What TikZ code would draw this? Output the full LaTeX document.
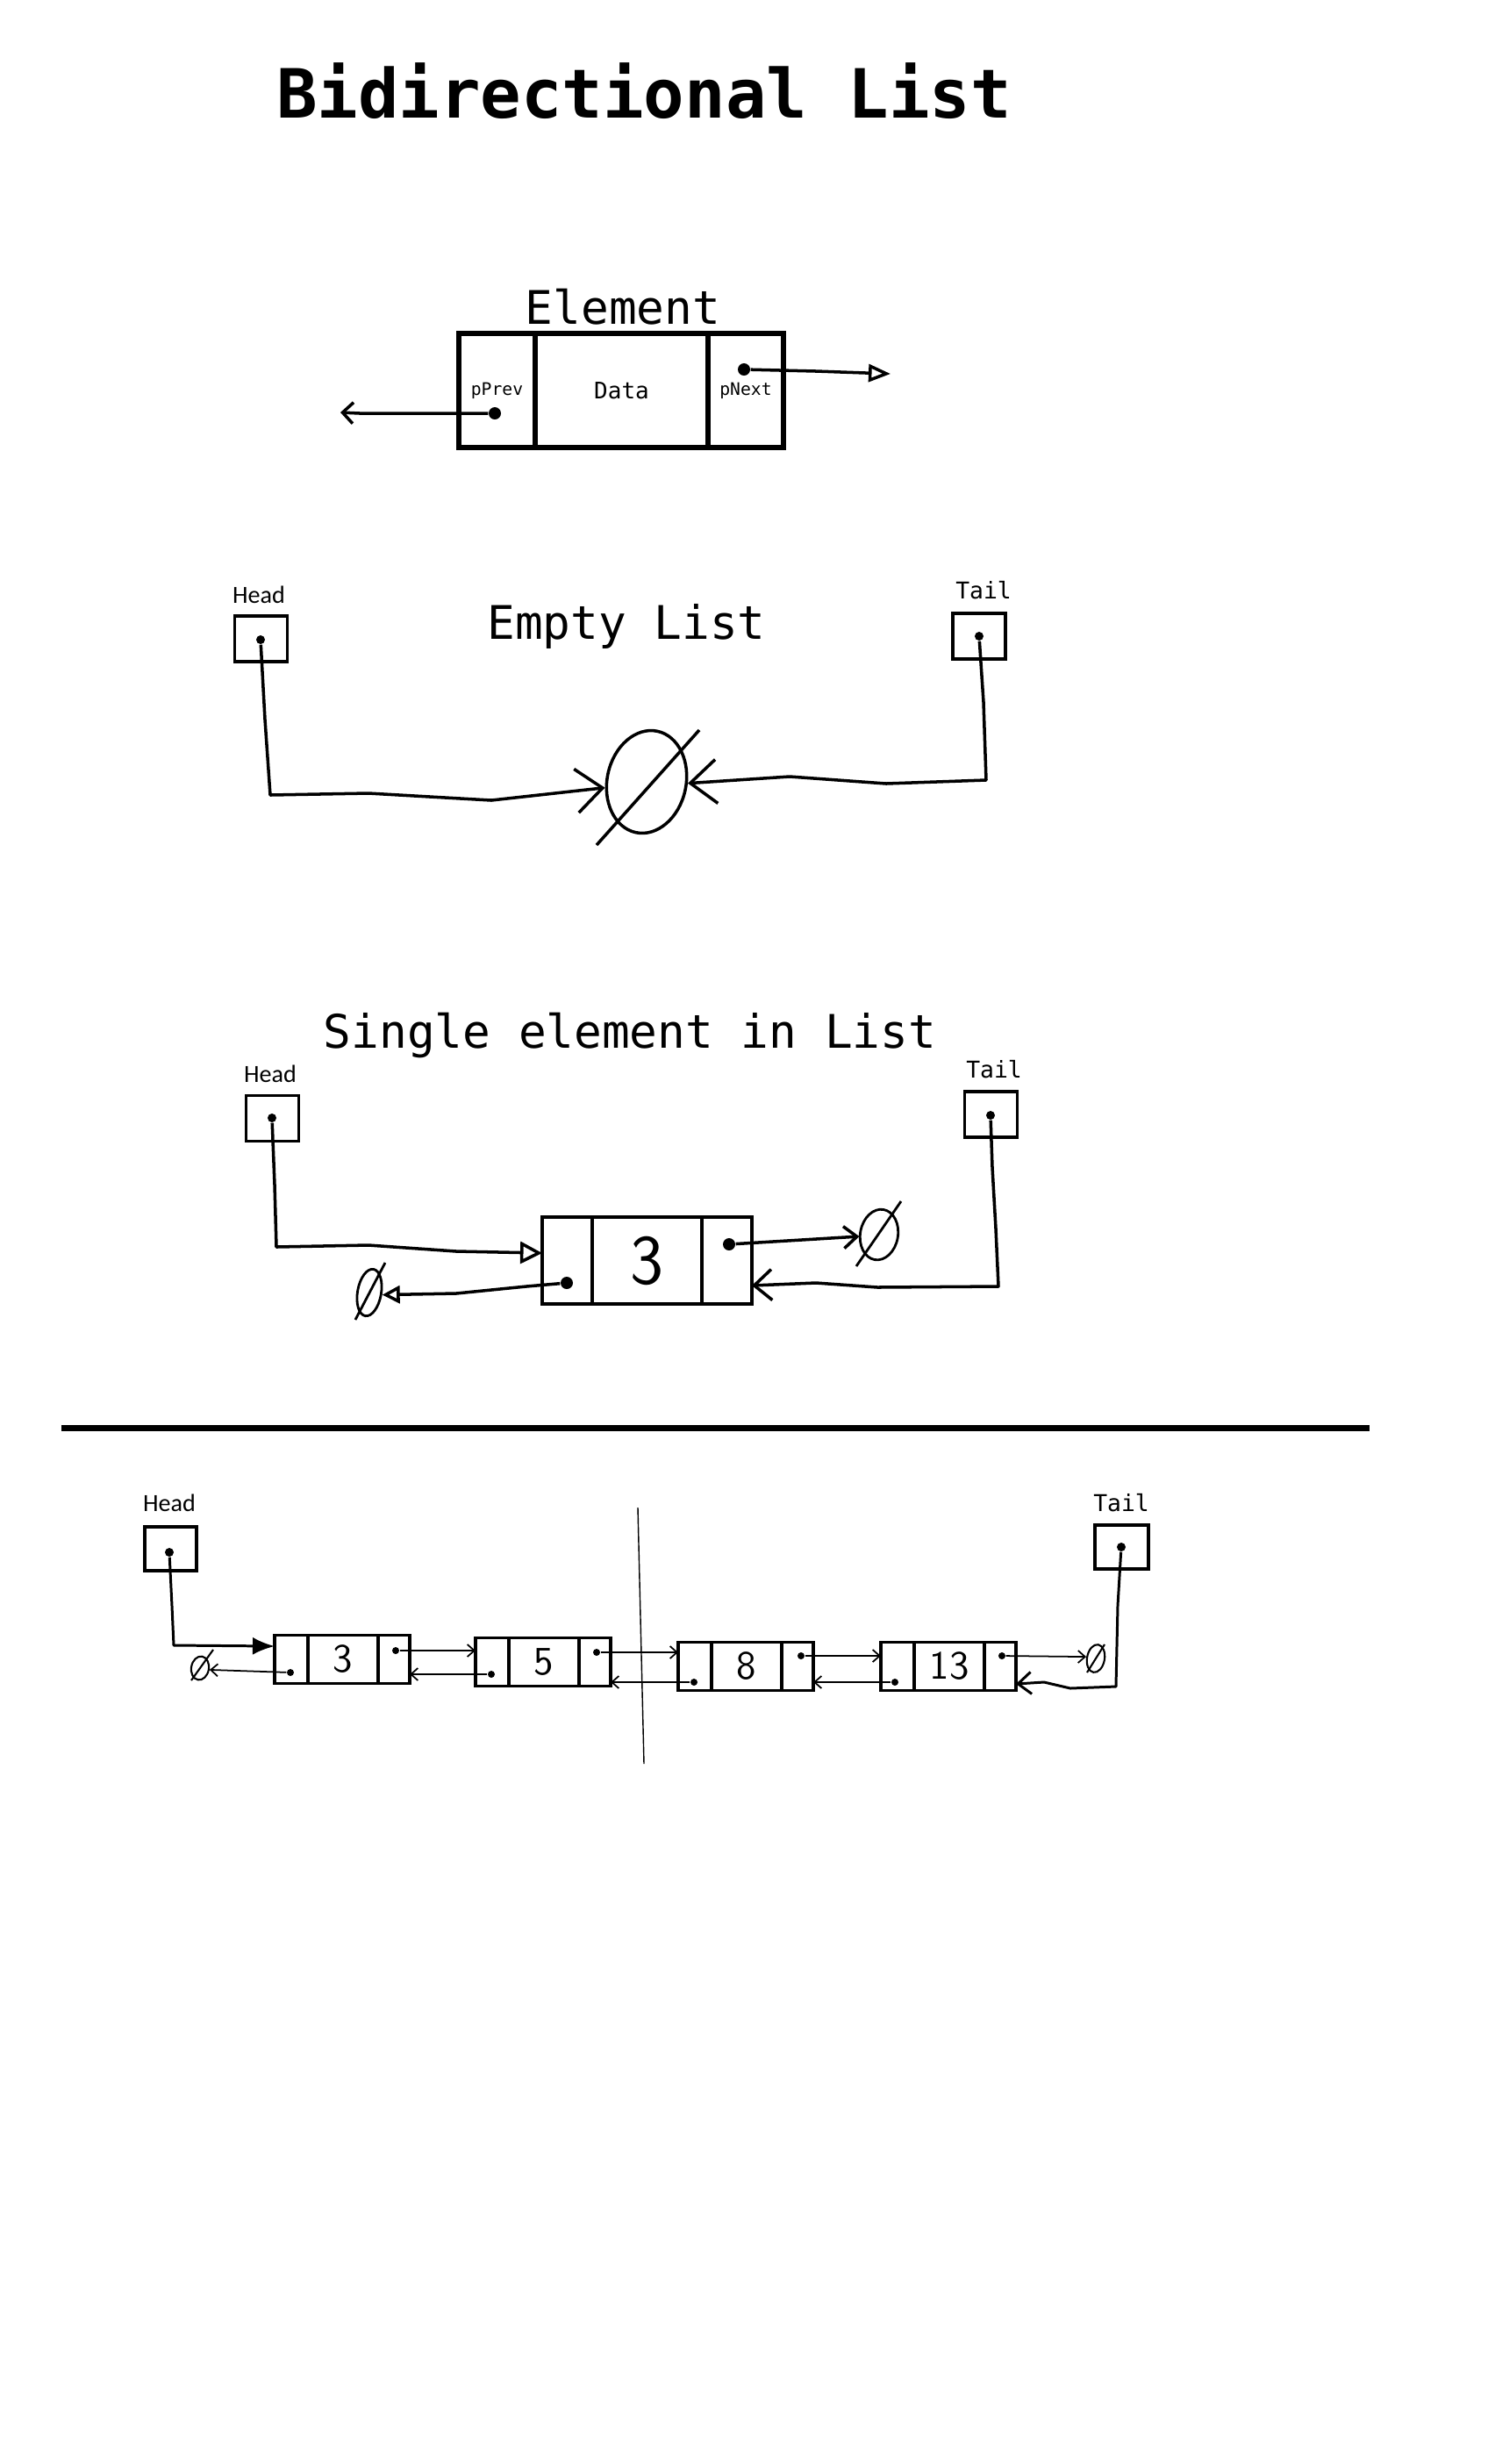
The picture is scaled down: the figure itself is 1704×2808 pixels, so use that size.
\documentclass[tikz,border=0pt]{standalone}
\usepackage{fontspec}
\setmonofont{DejaVu Sans Mono}
\newfontfamily\headfont{Carlito}
\usetikzlibrary{arrows.meta,shapes.geometric}

\tikzset{
    cell/.style={draw, rectangle, inner sep=0pt, outer sep=0pt, anchor=west},
    dot/.style={circle, fill, inner sep=0pt, minimum size=1.4mm},
    smalldot/.style={circle, fill, inner sep=0pt, minimum size=0.8mm},
    nullset/.style={ellipse, draw, inner sep=0pt, line width=0.8pt},
    ptrbox/.style={draw, rectangle, inner sep=0pt, line width=0.9pt, minimum width=6mm, minimum height=5.2mm},
    link/.style={line width=1pt, line join=round},
    thinlink/.style={line width=0.5pt},
    caption/.style={font=\ttfamily\fontsize{15}{18}\selectfont, anchor=base},
    headlbl/.style={font=\headfont\fontsize{8}{10}\selectfont, anchor=base},
    taillbl/.style={font=\ttfamily\fontsize{7.5}{9}\selectfont, anchor=base},
}

\begin{document}
\begin{tikzpicture}[x=0.1mm, y=-0.1mm]
    \useasboundingbox (0,0) rectangle (1704,2808);

    % Title
    \node[font=\ttfamily\bfseries\fontsize{22}{26}\selectfont, anchor=base] (title) at (734,134) {Bidirectional List};

    % Element
    \node[caption] (elcap) at (710,369) {Element};
    \node[cell, line width=1.5pt, minimum width=8.7mm, minimum height=13mm, font=\ttfamily\fontsize{5.6}{7}\selectfont] (elprev) at (523,445) {pPrev};
    \node[cell, line width=1.5pt, minimum width=19.7mm, minimum height=13mm, font=\ttfamily\fontsize{7.4}{9}\selectfont] (eldata) at (elprev.east) {Data};
    \node[cell, line width=1.5pt, minimum width=8.6mm, minimum height=13mm, font=\ttfamily\fontsize{5.6}{7}\selectfont] (elnext) at (eldata.east) {\raisebox{-0.6mm}{pNext}};
    \node[dot] (elpd) at (564,471) {};
    \node[dot] (elnd) at (848,421) {};
    \coordinate (elpend) at (388,470);
    \coordinate (elnend) at (1015,426);
    \draw[link, -{Straight Barb[length=1.2mm,width=2.4mm]}] (elpd) -- (410,471) -- (elpend);
    \draw[link, -{Triangle[open,length=2.5mm,width=2mm]}] (elnd) -- (930,423) -- (elnend);

    % Empty list
    \node[headlbl] (ehlbl) at (295,687) {Head};
    \node[ptrbox] (ehead) at (297.5,728) {};
    \node[dot, minimum size=1mm] (ehd) at (297,729) {};
    \node[taillbl] (etlbl) at (1121,682) {Tail};
    \node[ptrbox] (etail) at (1116,725) {};
    \node[dot, minimum size=1mm] (etd) at (1116,725) {};
    \node[caption] (ecap) at (714,728) {Empty List};
    \node[nullset, line width=1pt, minimum width=9mm, minimum height=11.8mm, rotate=-12] (enull) at (737,891) {};
    \draw[link] ([shift={(-57,72)}]enull.center) -- ([shift={(60,-59)}]enull.center);
    \draw[link, -{Straight Barb[length=3mm,width=5mm]}] (ehd) -- (302,820) -- (308,906) -- (420,904) -- (560,912) -- (enull.200);
    \draw[link, -{Straight Barb[length=3mm,width=5mm]}] (etd) -- (1121,800) -- (1124,889) -- (1010,893) -- (900,885) -- (enull.10);

    % Single element in list
    \node[caption] (scap) at (718,1194) {Single element in List};
    \node[headlbl] (shlbl) at (308,1233) {Head};
    \node[ptrbox] (shead) at (310.5,1274.5) {};
    \node[dot, minimum size=1mm] (shd) at (310,1274) {};
    \node[taillbl] (stlbl) at (1133,1228) {Tail};
    \node[ptrbox] (stail) at (1129.5,1270) {};
    \node[dot, minimum size=1mm] (std) at (1129,1271) {};
    \node[cell, line width=1pt, minimum width=5.7mm, minimum height=9.9mm] (sprev) at (618,1436.5) {};
    \node[cell, line width=1pt, minimum width=12.5mm, minimum height=9.9mm, font=\sffamily\fontsize{23}{26}\selectfont] (sdata) at (sprev.east) {3};
    \node[cell, line width=1pt, minimum width=5.7mm, minimum height=9.9mm] (snext) at (sdata.east) {};
    \node[dot] (spd) at (646,1462) {};
    \node[dot] (snd) at (831,1418) {};
    \node[nullset, minimum width=4.3mm, minimum height=5.8mm, rotate=-10] (snulln) at (1002,1407) {};
    \draw[link, line width=0.8pt] ([shift={(-26,36)}]snulln.center) -- ([shift={(25,-38)}]snulln.center);
    \node[nullset, minimum width=2.7mm, minimum height=5.4mm, rotate=-10] (snullp) at (421,1473) {};
    \draw[link, line width=0.8pt] ([shift={(-16,31)}]snullp.center) -- ([shift={(18,-34)}]snullp.center);
    \draw[link, -{Triangle[open,length=2.5mm,width=2.5mm]}] (shd) -- (313,1350) -- (315,1421) -- (420,1419) -- (520,1426) -- ([yshift=0.85mm]sprev.west);
    \draw[link, -{Straight Barb[length=1.5mm,width=2.5mm]}] (snd) -- ([yshift=-0.6mm]snulln.west);
    \draw[link, -{Straight Barb[length=2mm,width=3.5mm]}] (std) -- (1131,1330) -- (1135,1400) -- (1138,1466) -- (1000,1467) -- (930,1462) -- ([yshift=-2.85mm]snext.east);
    \draw[link, -{Triangle[open,length=2mm,width=2mm]}] (spd) -- (600,1466) -- (520,1474) -- (snullp.east);

    % Separator
    \draw[line width=2pt] (70,1627) -- (1561,1627);

    % List of four elements
    \node[headlbl] (bhlbl) at (193,1722) {Head};
    \node[ptrbox, minimum width=5.9mm, minimum height=5mm] (bhead) at (194.5,1765) {};
    \node[dot, minimum size=1mm] (bhd) at (193,1769) {};
    \node[taillbl] (btlbl) at (1278,1722) {Tail};
    \node[ptrbox, minimum width=6.1mm, minimum height=5mm] (btail) at (1278.5,1763) {};
    \node[dot, minimum size=1mm] (btd) at (1278,1763) {};
    \draw[line width=0.4pt] (727,1718) -- (734,2010);

    \node[cell, line width=0.9pt, minimum width=3.8mm, minimum height=5.5mm] (b1p) at (313,1891) {};
    \node[cell, line width=0.9pt, minimum width=8mm, minimum height=5.5mm, font=\sffamily\fontsize{13}{15}\selectfont] (b1d) at (b1p.east) {3};
    \node[cell, line width=0.9pt, minimum width=3.6mm, minimum height=5.5mm] (b1n) at (b1d.east) {};
    \node[cell, line width=0.9pt, minimum width=3.8mm, minimum height=5.5mm] (b2p) at (542,1894) {};
    \node[cell, line width=0.9pt, minimum width=8mm, minimum height=5.5mm, font=\sffamily\fontsize{13}{15}\selectfont] (b2d) at (b2p.east) {5};
    \node[cell, line width=0.9pt, minimum width=3.6mm, minimum height=5.5mm] (b2n) at (b2d.east) {};
    \node[cell, line width=0.9pt, minimum width=3.8mm, minimum height=5.5mm] (b3p) at (773,1899) {};
    \node[cell, line width=0.9pt, minimum width=8mm, minimum height=5.5mm, font=\sffamily\fontsize{13}{15}\selectfont] (b3d) at (b3p.east) {8};
    \node[cell, line width=0.9pt, minimum width=3.6mm, minimum height=5.5mm] (b3n) at (b3d.east) {};
    \node[cell, line width=0.9pt, minimum width=3.8mm, minimum height=5.5mm] (b4p) at (1004,1899) {};
    \node[cell, line width=0.9pt, minimum width=8mm, minimum height=5.5mm, font=\sffamily\fontsize{13}{15}\selectfont] (b4d) at (b4p.east) {13};
    \node[cell, line width=0.9pt, minimum width=3.6mm, minimum height=5.5mm] (b4n) at (b4d.east) {};

    \node[smalldot] (b1pd) at (331,1906) {};
    \node[smalldot] (b1nd) at (451,1881) {};
    \node[smalldot] (b2pd) at (560,1908) {};
    \node[smalldot] (b2nd) at (680,1883) {};
    \node[smalldot] (b3pd) at (791,1917) {};
    \node[smalldot] (b3nd) at (913,1887) {};
    \node[smalldot] (b4pd) at (1020,1917) {};
    \node[smalldot] (b4nd) at (1142,1887) {};

    \node[nullset, line width=0.6pt, minimum width=2mm, minimum height=3.2mm, rotate=-10] (bnulln) at (1249,1890) {};
    \draw[line width=0.6pt] ([shift={(-10,16)}]bnulln.center) -- ([shift={(10,-16)}]bnulln.center);
    \node[nullset, line width=0.6pt, minimum width=2mm, minimum height=2.7mm, rotate=-10] (bnullp) at (228,1901) {};
    \draw[line width=0.6pt] ([shift={(-10,14)}]bnullp.center) -- ([shift={(15,-21)}]bnullp.center);

    % next pointers
    \draw[thinlink, -{Straight Barb[length=0.8mm,width=1.4mm]}] (b1nd) -- (b2p.west |- b1nd);
    \draw[thinlink, -{Straight Barb[length=0.8mm,width=1.4mm]}] (b2nd) -- (b3p.west |- b2nd);
    \draw[thinlink, -{Straight Barb[length=0.8mm,width=1.4mm]}] (b3nd) -- (b4p.west |- b3nd);
    \draw[thinlink, -{Straight Barb[length=0.8mm,width=1.4mm]}] (b4nd) -- (bnulln.west);
    % prev pointers
    \draw[thinlink, -{Straight Barb[length=0.8mm,width=1.4mm]}] (b1pd) -- (bnullp.east);
    \draw[thinlink, -{Straight Barb[length=0.8mm,width=1.4mm]}] (b2pd) -- (b1n.east |- b2pd);
    \draw[thinlink, -{Straight Barb[length=0.8mm,width=1.4mm]}] (b3pd) -- (b2n.east |- b3pd);
    \draw[thinlink, -{Straight Barb[length=0.8mm,width=1.4mm]}] (b4pd) -- (b3n.east |- b4pd);

    \draw[link, line width=0.85pt, -{Latex[length=2.5mm,width=2mm]}] (bhd) -- (196,1830) -- (198,1875) -- ([yshift=1.5mm]b1p.west);
    \draw[link, line width=0.85pt, -{Straight Barb[length=1.5mm,width=2.5mm]}] (btd) -- (1274,1830) -- (1272,1922) -- (1220,1924) -- (1190,1917) -- ([yshift=-2mm]b4n.east);
\end{tikzpicture}
\end{document}
